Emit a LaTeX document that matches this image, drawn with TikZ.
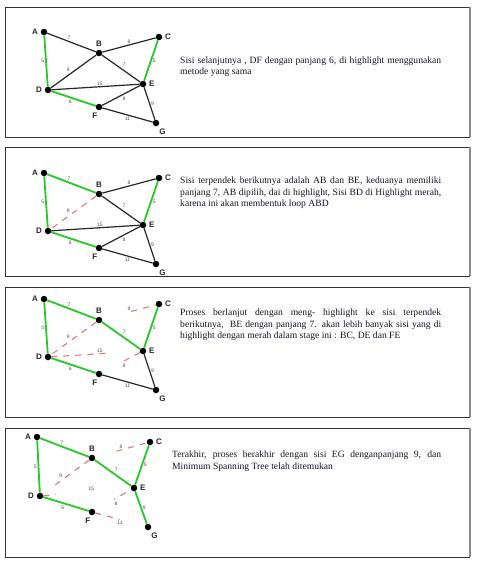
\documentclass[tikz,border=0pt]{standalone}
\usepackage{fontspec}
\setmainfont{Liberation Serif}
\newfontfamily\lettersf{Liberation Sans}
\definecolor{mstgreen}{RGB}{40,200,40}
\definecolor{loopred}{RGB}{225,120,120}
\definecolor{inktext}{RGB}{20,20,40}
\tikzset{
  vertex/.style={circle,fill=black,inner sep=0pt,minimum size=6.5pt},
  lbl/.style={font=\fontsize{8}{8}\lettersf\bfseries,inner sep=0.5pt,text=black!85},
  wt/.style={font=\fontsize{5}{5}\lettersf,text=black!70,inner sep=1pt},
  plain/.style={draw=black!85,line width=1.2pt},
  chosen/.style={draw=mstgreen,line width=1.8pt},
  rejected/.style={draw=loopred,line width=1.1pt,dash pattern=on 6pt off 6pt},
  panel/.style={draw=black!80,line width=0.8pt},
  caption/.style={anchor=base west,inner sep=0pt,text width=261pt,align=justify,
    text=inktext,font=\fontsize{9.6}{11.7}\selectfont},
}
\begin{document}
\begin{tikzpicture}[x=1pt,y=-1pt,label distance=2pt]
\useasboundingbox (0,0) rectangle (478,566);
% frames
\draw[panel] (5,7) rectangle (469,137);
\draw[panel] (5,147) rectangle (469,276);
\draw[panel] (5,287) rectangle (469,417);
\draw[panel] (5,428) rectangle (469,557);
\foreach \top/\bot in {7/137,147/276,287/417,428/557}
  \draw[black!45,line width=1.2pt] (470,\top) -- (470,\bot);

% stage 1
\node[vertex,label={[lbl]left:A}] (A1) at (44,32) {};
\node[vertex,label={[lbl]above:B}] (B1) at (99,53) {};
\node[vertex,label={[lbl]right:C}] (C1) at (159,37) {};
\node[vertex,label={[lbl]left:D}] (D1) at (48,90) {};
\node[vertex,label={[lbl]right:E}] (E1) at (143,84) {};
\node[vertex,label={[lbl]-100:F}] (F1) at (99,107) {};
\node[vertex,label={[lbl]-60:G}] (G1) at (156,123) {};
\path[chosen] (A1) -- node[wt,left] {5} (D1);
\path[plain] (A1) -- node[wt,above,pos=0.45] {7} (B1);
\path[plain] (B1) -- node[wt,above] {8} (C1);
\path[plain] (B1) -- node[wt,above left,pos=0.55] {9} (D1);
\path[plain] (B1) -- node[wt,above right] {7} (E1);
\path[chosen] (C1) -- node[wt,right] {5} (E1);
\path[plain] (D1) -- node[wt,above,pos=0.55] {15} (E1);
\path[chosen] (D1) -- node[wt,below left] {6} (F1);
\path[plain] (E1) -- node[wt,below right] {8} (F1);
\path[plain] (E1) -- node[wt,right] {9} (G1);
\path[plain] (F1) -- node[wt,below] {11} (G1);
\node[caption] (note1) at (180,63) {\hyphenpenalty=10000
  Sisi selanjutnya , DF dengan panjang 6, di highlight menggunakan\linebreak
  metode yang sama};

% stage 2
\begin{scope}[shift={(0,141)}]
\node[vertex,label={[lbl]left:A}] (A2) at (44,32) {};
\node[vertex,label={[lbl]above:B}] (B2) at (99,53) {};
\node[vertex,label={[lbl]right:C}] (C2) at (159,37) {};
\node[vertex,label={[lbl]left:D}] (D2) at (48,90) {};
\node[vertex,label={[lbl]right:E}] (E2) at (143,84) {};
\node[vertex,label={[lbl]-100:F}] (F2) at (99,107) {};
\node[vertex,label={[lbl]-60:G}] (G2) at (156,123) {};
\path[chosen] (A2) -- node[wt,left] {5} (D2);
\path[chosen] (A2) -- node[wt,above,pos=0.45] {7} (B2);
\path[plain] (B2) -- node[wt,above] {8} (C2);
\path[rejected] (B2) -- node[wt,above left,pos=0.55] {9} (D2);
\path[plain] (B2) -- node[wt,above right] {7} (E2);
\path[chosen] (C2) -- node[wt,right] {5} (E2);
\path[plain] (D2) -- node[wt,above,pos=0.55] {15} (E2);
\path[chosen] (D2) -- node[wt,below left] {6} (F2);
\path[plain] (E2) -- node[wt,below right] {8} (F2);
\path[plain] (E2) -- node[wt,right] {9} (G2);
\path[plain] (F2) -- node[wt,below] {11} (G2);
\end{scope}
\node[caption] (note2) at (180,183.3) {\hyphenpenalty=10000
  Sisi terpendek berikutnya adalah AB dan BE, keduanya memiliki\linebreak
  panjang 7, AB dipilih, dai di highlight, Sisi BD di Highlight merah,\linebreak
  karena ini akan membentuk loop ABD};

% stage 3
\begin{scope}[shift={(0,267)}]
\node[vertex,label={[lbl]left:A}] (A3) at (44,32) {};
\node[vertex,label={[lbl]above:B}] (B3) at (99,53) {};
\node[vertex,label={[lbl]right:C}] (C3) at (159,37) {};
\node[vertex,label={[lbl]left:D}] (D3) at (48,90) {};
\node[vertex,label={[lbl]right:E}] (E3) at (143,84) {};
\node[vertex,label={[lbl]-100:F}] (F3) at (99,107) {};
\node[vertex,label={[lbl]-60:G}] (G3) at (156,123) {};
\path[chosen] (A3) -- node[wt,left] {5} (D3);
\path[chosen] (A3) -- node[wt,above,pos=0.45] {7} (B3);
\path[rejected,shorten <=30pt] (B3) -- node[wt,above] {8} (C3);
\path[rejected] (B3) -- node[wt,above left,pos=0.55] {9} (D3);
\path[chosen] (B3) -- node[wt,above right] {7} (E3);
\path[chosen] (C3) -- node[wt,right] {5} (E3);
\path[rejected,shorten >=32pt] (D3) -- node[wt,above,pos=0.55] {15} (E3);
\path[chosen] (D3) -- node[wt,below left] {6} (F3);
\path[rejected,shorten >=25pt] (E3) -- node[wt,below right] {8} (F3);
\path[plain] (E3) -- node[wt,right] {9} (G3);
\path[plain] (F3) -- node[wt,below] {11} (G3);
\end{scope}
\node[caption] (note3) at (180,315.3) {\hyphenpenalty=10000
  Proses berlanjut dengan meng- highlight ke sisi terpendek\linebreak
  berikutnya,~ BE dengan panjang 7. akan lebih banyak sisi yang di\linebreak
  highlight dengan merah dalam stage ini : BC, DE dan FE};

% stage 4
\begin{scope}[shift={(-7,405)}]
\node[vertex,label={[lbl]left:A}] (A4) at (44,32) {};
\node[vertex,label={[lbl]above:B}] (B4) at (99,53) {};
\node[vertex,label={[lbl]right:C}] (C4) at (157,37) {};
\node[vertex,label={[lbl]left:D}] (D4) at (47,91) {};
\node[vertex,label={[lbl]right:E}] (E4) at (141,83) {};
\node[vertex,label={[lbl]-100:F}] (F4) at (99,107) {};
\node[vertex,label={[lbl]-60:G}] (G4) at (155,122) {};
\path[chosen] (A4) -- node[wt,left] {5} (D4);
\path[chosen] (A4) -- node[wt,above,pos=0.45] {7} (B4);
\path[rejected,shorten <=22pt] (B4) -- node[wt,above] {8} (C4);
\path[rejected,shorten >=12pt] (B4) -- node[wt,above left,pos=0.55] {9} (D4);
\path[chosen] (B4) -- node[wt,above right] {7} (E4);
\path[chosen] (C4) -- node[wt,right] {5} (E4);
\path[rejected,shorten >=75pt] (D4) -- node[wt,above,pos=0.55] {15} (E4);
\path[chosen] (D4) -- node[wt,below left] {6} (F4);
\path[rejected,shorten <=6pt,shorten >=22pt] (E4) -- node[wt,below right] {8} (F4);
\path[chosen] (E4) -- node[wt,right] {9} (G4);
\path[rejected,shorten >=26pt] (F4) -- node[wt,below] {11} (G4);
\end{scope}
\node[caption,text width=269pt] (note4) at (172,457.3) {\hyphenpenalty=10000
  Terakhir, proses berakhir dengan sisi EG denganpanjang 9, dan\linebreak
  Minimum Spanning Tree telah ditemukan};
\end{tikzpicture}
\end{document}
